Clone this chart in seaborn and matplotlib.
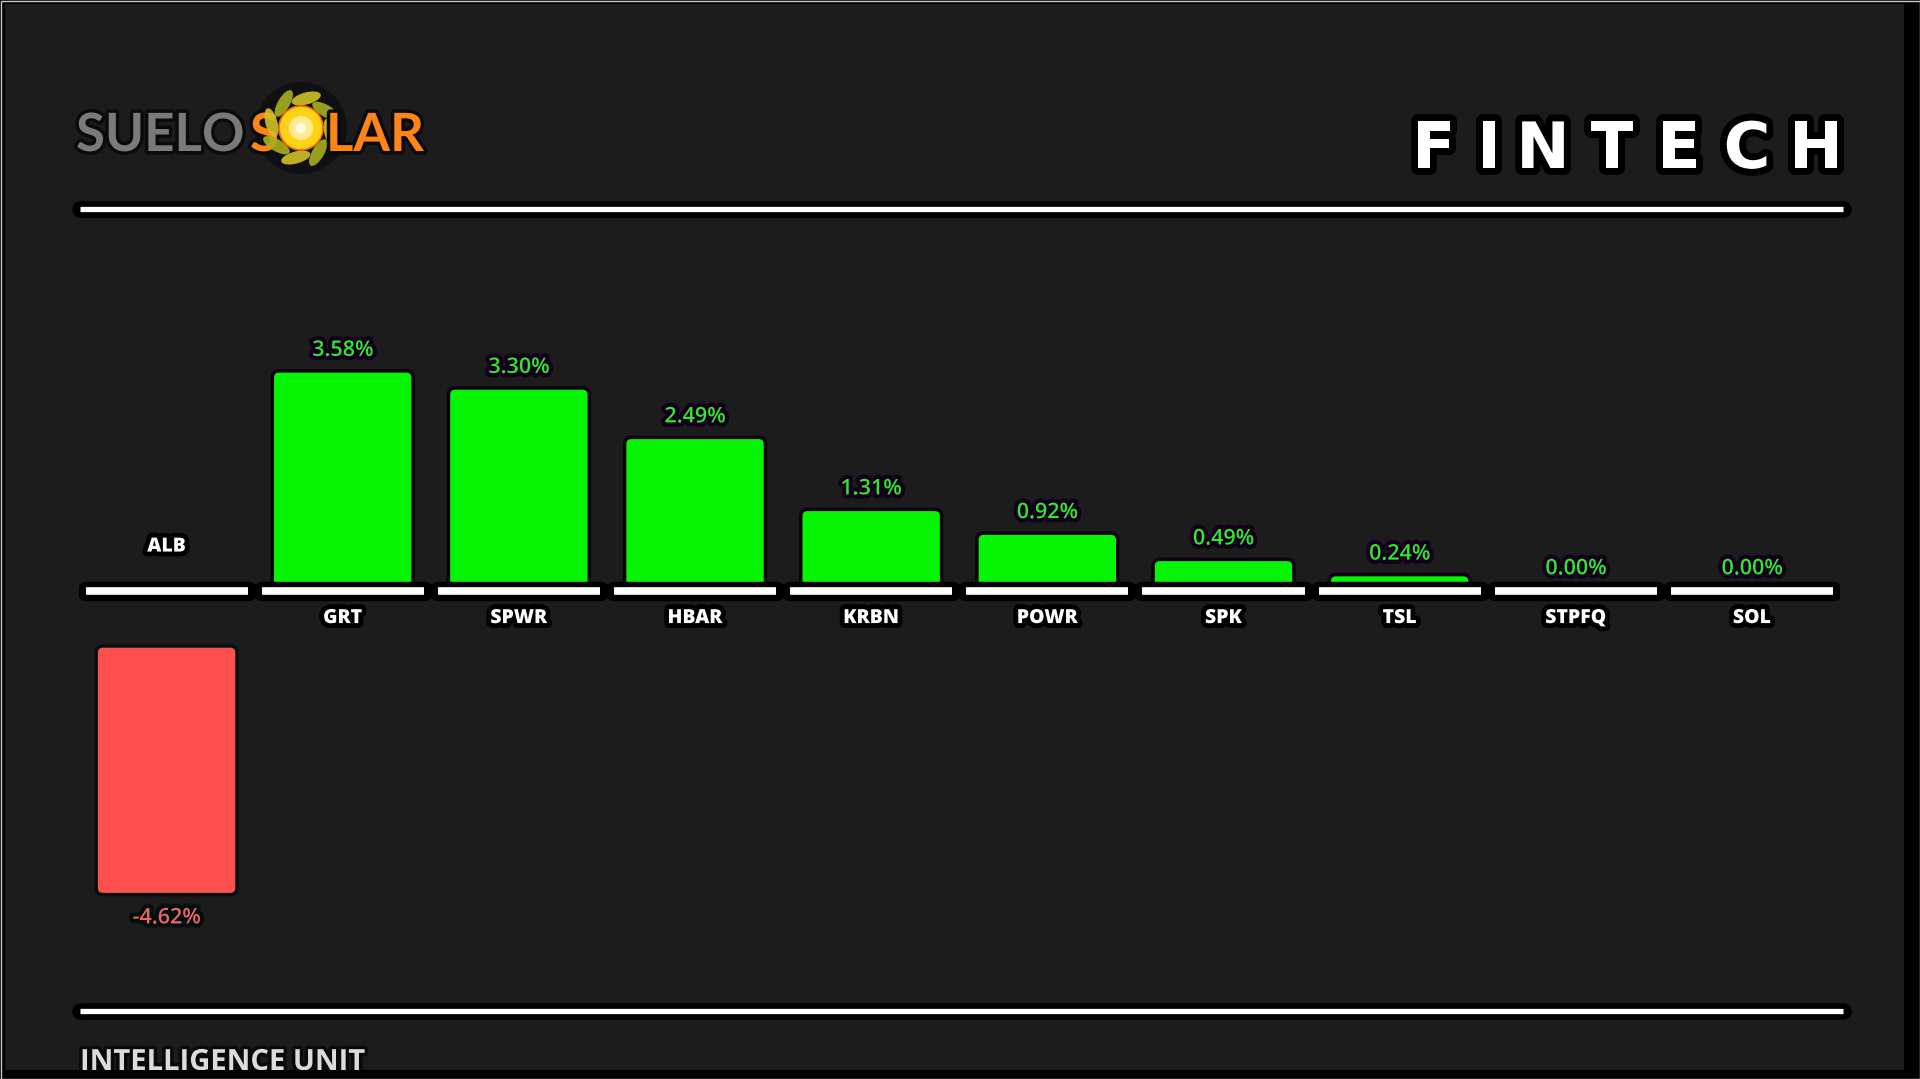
import numpy as np
import pandas as pd
import matplotlib
matplotlib.use("Agg")
import matplotlib.pyplot as plt
import matplotlib.patheffects as pe
from matplotlib.patches import Rectangle, Circle, Ellipse, FancyBboxPatch
import seaborn as sns

# data
tickers = ["ALB", "GRT", "SPWR", "HBAR", "KRBN", "POWR", "SPK", "TSL", "STPFQ", "SOL"]
changes = [-4.62, 3.58, 3.30, 2.49, 1.31, 0.92, 0.49, 0.24, 0.00, 0.00]
sector = "FINTECH"
footer = "INTELLIGENCE UNIT"

BG = "#1c1c1c"
GREEN = "#05f505"
GREEN_TXT = "#30e830"
RED = "#ff4f4f"
RED_TXT = "#f26464"
NEG_GAP = 0.93      # negative bars start a bit below the baseline
NEG_SCALE = 0.87

sns.set_theme(style="dark")
plt.rcParams["font.family"] = ["Open Sans", "DejaVu Sans"]

W, H = 1920, 1079
fig = plt.figure(figsize=(W / 100, H / 100), dpi=100, facecolor="#000000")

# background / decorations in pixel coords
deco = fig.add_axes([0, 0, 1, 1], zorder=0)
deco.set_xlim(0, W)
deco.set_ylim(H, 0)
deco.axis("off")
deco.add_patch(Rectangle((5, 4), 1899, 1066, facecolor=BG, edgecolor="none", zorder=0))
deco.add_patch(Rectangle((0, 1070), W, 9, facecolor="#000000", edgecolor="none", zorder=10))
deco.add_patch(Rectangle((0.5, 0.5), W - 1, H - 1, facecolor="none", edgecolor="#c8c8c8", lw=1, zorder=11))

glow_line = [pe.Stroke(linewidth=12, foreground="#000000", capstyle="round"), pe.Normal()]
for yy in [209, 1011]:
    deco.plot([80, 1843], [yy, yy], color="white", lw=3.8, solid_capstyle="butt",
              path_effects=glow_line, zorder=3)

# sector title, letter spaced
letter_x = [1434, 1489, 1543, 1612, 1679, 1747, 1816]
for ch, lx in zip(sector, letter_x):
    deco.text(lx, 150, ch, fontsize=46, fontweight="heavy", family="DejaVu Sans",
              color="white", ha="center", va="center", zorder=4,
              path_effects=[pe.withStroke(linewidth=10, foreground="#000000")])

deco.text(80, 1048, footer, fontsize=21, fontweight="bold", color="#dcdcdc",
          ha="left", va="top", zorder=4,
          path_effects=[pe.withStroke(linewidth=5, foreground="#0a0a0a")])

# logo
logo_fx = [pe.withStroke(linewidth=5, foreground="#0b0b0b")]
sx, sy = 301, 128
deco.add_patch(Circle((sx, sy), 46, facecolor="#05050d", edgecolor="none", alpha=0.5, zorder=3))
deco.text(76, 151, "SUELO", fontsize=38, family="Lato", fontweight="bold", color="#7a7a7a",
          ha="left", va="baseline", zorder=4, path_effects=logo_fx)
deco.text(250, 151, "S", fontsize=38, family="Lato", fontweight="bold", color="#ff8418",
          ha="left", va="baseline", zorder=4, path_effects=logo_fx)
for k in range(8):
    th = np.deg2rad(k * 45 + 10)
    deco.add_patch(Ellipse((sx + 30 * np.cos(th), sy + 30 * np.sin(th)), 30, 12,
                           angle=k * 45 + 75,
                           facecolor="#d2c024" if k % 2 == 0 else "#a8b01e",
                           edgecolor="none", alpha=0.9, zorder=5))
deco.add_patch(Circle((sx, sy), 22, facecolor="#ffd21a", edgecolor="#ff6a00", lw=1.2, zorder=6))
deco.add_patch(Circle((sx, sy), 12, facecolor="#fff1a8", edgecolor="none", alpha=0.85, zorder=6))
deco.add_patch(Circle((sx, sy), 5, facecolor="#fffbe8", edgecolor="none", alpha=0.9, zorder=6))
deco.text(326, 151, "LAR", fontsize=38, family="Lato", fontweight="bold", color="#ff8418",
          ha="left", va="baseline", zorder=7, path_effects=logo_fx)

# main chart axes: categories centred at 166.5 + 176*i px, baseline at y=591 px
ax_l, ax_b, ax_w, ax_h = 78.5, 79, 1840 - 78.5, 760
ax = fig.add_axes([ax_l / W, ax_b / H, ax_w / W, ax_h / H], zorder=2)
ax.set_facecolor("none")
ymin, ymax = -6.705, 5.754

df = pd.DataFrame({"ticker": tickers, "change": changes})
colors = [GREEN if v >= 0 else RED for v in changes]
sns.barplot(data=df, x="ticker", y="change", hue="ticker", palette=colors,
            width=0.78, saturation=1, legend=False, ax=ax, zorder=2)

# swap the square bars for slightly rounded ones with the same geometry
px_x = ax_w / len(tickers)
px_y = ax_h / (ymax - ymin)
r = 5 / px_x
aspect = px_x / px_y
for bar, v in list(zip(ax.patches, changes)):
    x0, w = bar.get_x(), bar.get_width()
    y0, h = bar.get_y(), bar.get_height()
    fc = bar.get_facecolor()
    if v < 0:
        y0, h = -NEG_GAP + v * NEG_SCALE, -v * NEG_SCALE
        glow = "#041010"
    else:
        glow = "#0e0010"
    bar.remove()
    if h == 0:
        continue
    fb = FancyBboxPatch((x0, y0), w, h, boxstyle=f"round,pad=0,rounding_size={r}",
                        mutation_aspect=aspect, facecolor=fc, edgecolor="none", zorder=2,
                        path_effects=[pe.withStroke(linewidth=5, foreground=glow)])
    ax.add_patch(fb)

seg_fx = [pe.Stroke(linewidth=14, foreground="#000000", capstyle="round"), pe.Normal()]
for i, v in enumerate(changes):
    ax.plot([i - 0.46, i + 0.46], [0, 0], color="white", lw=5.5,
            solid_capstyle="butt", path_effects=seg_fx, zorder=3)
    lab = f"{v:.2f}%"
    if v >= 0:
        ax.annotate(lab, (i, v), xytext=(0, 16), textcoords="offset points",
                    ha="center", va="center", fontsize=15.5, fontweight="semibold",
                    color=GREEN_TXT, zorder=4,
                    path_effects=[pe.withStroke(linewidth=6, foreground="#14001a")])
        ax.annotate(tickers[i], (i, 0), xytext=(0, -19.5), textcoords="offset points",
                    ha="center", va="center", fontsize=14, fontweight="heavy",
                    color="white", zorder=4,
                    path_effects=[pe.withStroke(linewidth=7, foreground="#000000")])
    else:
        bottom = -NEG_GAP + v * NEG_SCALE
        ax.annotate(lab, (i, bottom), xytext=(0, -18), textcoords="offset points",
                    ha="center", va="center", fontsize=15.5, fontweight="semibold",
                    color=RED_TXT, zorder=4,
                    path_effects=[pe.withStroke(linewidth=6, foreground="#001010")])
        ax.annotate(tickers[i], (i, 0), xytext=(0, 32), textcoords="offset points",
                    ha="center", va="center", fontsize=14, fontweight="heavy",
                    color="white", zorder=4,
                    path_effects=[pe.withStroke(linewidth=7, foreground="#000000")])

ax.set_xlim(-0.5, len(tickers) - 0.5)
ax.set_ylim(ymin, ymax)
ax.set_xlabel("")
ax.set_ylabel("")
ax.set_xticks([])
ax.set_yticks([])
ax.grid(False)
for s in ax.spines.values():
    s.set_visible(False)

fig.savefig("out.png", dpi=100, facecolor=fig.get_facecolor())
